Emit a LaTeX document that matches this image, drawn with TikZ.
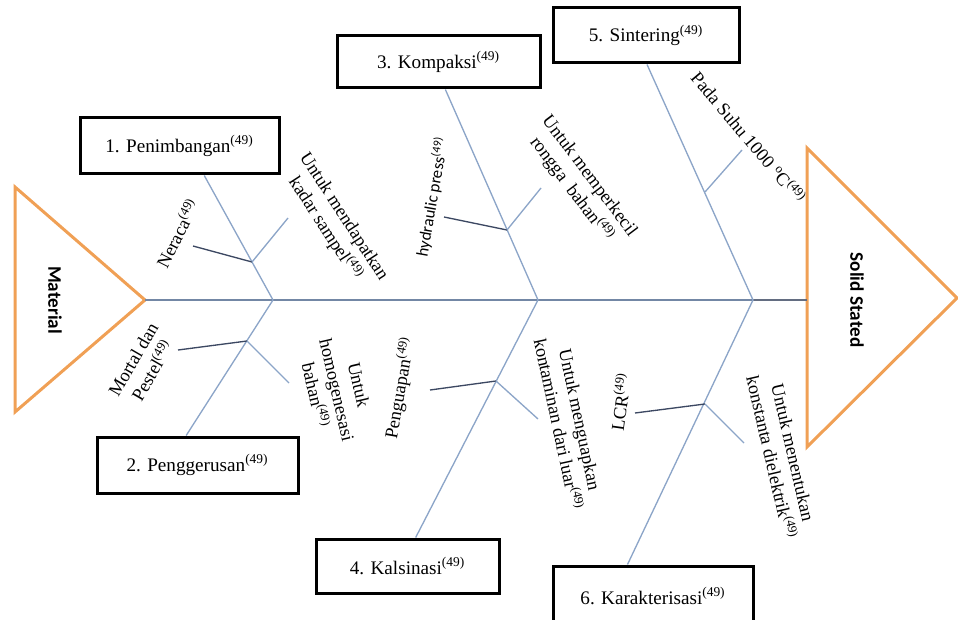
\documentclass[tikz,border=0pt]{standalone}
\usepackage{fontspec}
\setmainfont{Liberation Serif}
\newfontfamily\calibri{Carlito}
\usepackage{tikz}
\usetikzlibrary{positioning}
\definecolor{fishorange}{RGB}{240,160,85}
\definecolor{bonecol}{RGB}{140,165,200}
\definecolor{twigcol}{RGB}{60,72,98}
\definecolor{spinecol}{RGB}{115,135,165}
\newcommand{\nomor}{\textsuperscript{(49)}}

\begin{document}
\begin{tikzpicture}[x=0.6pt,y=0.6pt,
    stage/.style={draw, line width=1.8pt, minimum height=33.6pt, inner sep=0pt,
      font=\fontsize{11.5}{14}\selectfont},
    head/.style={draw=fishorange, line width=1.8pt, line join=miter},
    bone/.style={draw=bonecol, line width=0.8pt},
    twig/.style={draw=twigcol, line width=0.8pt},
    lbl/.style={align=center, inner sep=0pt, font=\fontsize{11}{13.5}\selectfont},
    fishtext/.style={font=\calibri\bfseries\fontsize{11.5}{14}\selectfont, rotate=-90}]
  \useasboundingbox (0,0) rectangle (958,619);
  \clip (0,0) rectangle (958,619);

  % kepala dan ekor
  \draw[head] (15,432) -- (145,319) -- (15,207) -- cycle;
  \draw[head] (807,471) -- (957,321) -- (807,172) -- cycle;
  \node (mat) at (55,319) [fishtext] {Material};
  \node (solid) at (857,319) [fishtext] {Solid Stated};

  % tulang utama
  \coordinate (tail) at (145,319);
  \coordinate (mouth) at (807,319);
  \coordinate (j1) at (273,319);
  \coordinate (j2) at (538,319);
  \coordinate (j3) at (753,319);
  \draw[draw=spinecol, line width=0.9pt] (tail) -- (j3);
  \draw[draw=twigcol!80, line width=0.9pt] (j3) -- (mouth);

  % tahapan
  \node (pen) [stage, minimum width=119.4pt] at (179.5,473) {1. Penimbangan\nomor};
  \node (ger) [stage, minimum width=120.6pt] at (197.5,154) {2. Penggerusan\nomor};
  \node (kom) [stage, minimum width=121.8pt, minimum height=31.2pt] at (438.5,557) {3. Kompaksi\nomor};
  \node (kal) [stage, minimum width=109.8pt, minimum height=32.4pt] at (407.5,53) {4. Kalsinasi\nomor};
  \node (sin) [stage, minimum width=111.6pt, minimum height=33pt] at (646,583.5) {5. Sintering\nomor};
  \node (kar) [stage, minimum width=120pt, minimum height=36pt] at (653,23) {6. Karakterisasi\nomor};

  \draw[bone] (pen.-50) -- (j1);
  \draw[bone] (ger.111) -- (j1);
  \draw[bone] (kom.-76) -- (j2);
  \draw[bone] (kal.74) -- (j2);
  \draw[bone] (sin.-88) -- (j3);
  \draw[bone] (kar.129) -- (j3);

  % cabang kecil
  \coordinate (s1) at (252,357);
  \coordinate (s2) at (247,278);
  \coordinate (s3) at (507,389);
  \coordinate (s4) at (496,238);
  \coordinate (s5) at (705,427);
  \coordinate (s6) at (705,215);
  \coordinate (t1a) at (193,373);
  \coordinate (t1b) at (288,401);
  \coordinate (t2a) at (178,269);
  \coordinate (t2b) at (289,236);
  \coordinate (t3a) at (444,402);
  \coordinate (t3b) at (541,431);
  \coordinate (t4a) at (430,229);
  \coordinate (t4b) at (538,200);
  \coordinate (t5b) at (742,469);
  \coordinate (t6a) at (635,206);
  \coordinate (t6b) at (744,176);
  \draw[twig] (t1a) -- (s1);
  \draw[bone] (s1) -- (t1b);
  \draw[twig] (t2a) -- (s2);
  \draw[bone] (s2) -- (t2b);
  \draw[twig] (t3a) -- (s3);
  \draw[bone] (s3) -- (t3b);
  \draw[twig] (t4a) -- (s4);
  \draw[bone] (s4) -- (t4b);
  \draw[bone] (s5) -- (t5b);
  \draw[twig] (t6a) -- (s6);
  \draw[bone] (s6) -- (t6b);

  % keterangan
  \node (ner) [lbl, rotate=63] at (177,386) {Neraca\nomor};
  \node (kad) [lbl, rotate=-57] at (334,396) {Untuk mendapatkan\\kadar sampel\nomor};
  \node (mor) [lbl, rotate=60] at (143,254) {Mortal dan\\Pestel\nomor};
  \node (hom) [lbl, rotate=-77] at (337,229) {Untuk\\homogenesasi\\bahan\nomor};
  \node (hyd) [lbl, rotate=80, font=\calibri\fontsize{10}{12}\selectfont] at (432,422) {hydraulic press\nomor};
  \node (ron) [lbl, rotate=-53] at (580,436) {Untuk memperkecil\\rongga\ \ bahan\nomor};
  \node (suh) [lbl, rotate=-50] at (749,482) {Pada Suhu 1000 \textsuperscript{o}C\nomor};
  \node (gua) [lbl, rotate=80] at (400,231) {Penguapan\nomor};
  \node (kon) [lbl, rotate=-78] at (569,197) {Untuk menguapkan\\kontaminan dari luar\nomor};
  \node (lcr) [lbl, rotate=82] at (620,217) {LCR\nomor};
  \node (die) [lbl, rotate=-77] at (782,164) {Untuk menentukan\\konstanta dielektrik\nomor};
\end{tikzpicture}
\end{document}
